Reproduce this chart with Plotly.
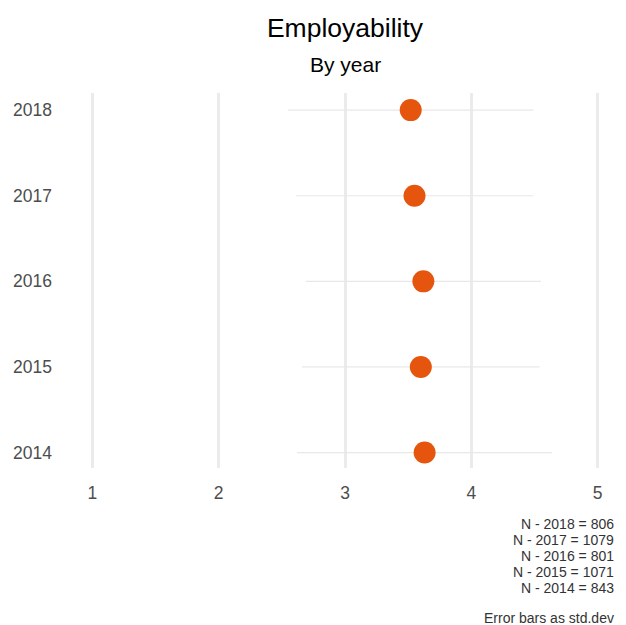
import plotly.graph_objects as go

# Employability score by year (mean and std.dev)
years = ["2018", "2017", "2016", "2015", "2014"]
means = [3.52, 3.55, 3.62, 3.60, 3.63]
std_devs = [0.97, 0.94, 0.93, 0.94, 1.01]
counts = [806, 1079, 801, 1071, 843]

fig = go.Figure()

fig.add_trace(
    go.Scatter(
        x=means,
        y=years,
        mode="markers",
        marker=dict(color="#E6550D", size=22, line=dict(width=0)),
        error_x=dict(
            type="data",
            array=std_devs,
            symmetric=True,
            color="#E8E8E8",
            thickness=1.2,
            width=0,
        ),
        showlegend=False,
    )
)

fig.update_xaxes(
    range=[0.8, 5.2],
    tickvals=[1, 2, 3, 4, 5],
    showgrid=True,
    gridcolor="#EBEBEB",
    gridwidth=2.5,
    zeroline=False,
    showline=False,
    ticks="",
    ticklabelstandoff=12,
    tickfont=dict(size=17.5, color="#4D4D4D"),
)
fig.update_yaxes(
    type="category",
    categoryorder="array",
    categoryarray=years[::-1],
    range=[-0.18, 4.2],
    showgrid=False,
    zeroline=False,
    showline=False,
    ticks="",
    ticklabelstandoff=14,
    tickfont=dict(size=17.5, color="#4D4D4D"),
)

caption_x = (608 - 59) / 556
annotations = [
    dict(
        text="By year",
        xref="paper", yref="paper",
        x=0.5, y=1 + 29 / 375,
        xanchor="center", yanchor="middle",
        showarrow=False,
        font=dict(size=21, color="black"),
    ),
    dict(
        text="Error bars as std.dev",
        xref="paper", yref="paper",
        x=caption_x, y=-150 / 375,
        xanchor="right", yanchor="middle",
        showarrow=False,
        font=dict(size=14, color="#333333"),
    ),
]
# caption lines with N per year
for i, (y, n) in enumerate(zip(years, counts)):
    annotations.append(
        dict(
            text=f"N - {y} = {n}",
            xref="paper", yref="paper",
            x=caption_x, y=-(56 + 16 * i) / 375,
            xanchor="right", yanchor="middle",
            showarrow=False,
            font=dict(size=14, color="#333333"),
        )
    )

fig.update_layout(
    width=618,
    height=617,
    margin=dict(l=59, r=3, t=85, b=157),
    plot_bgcolor="white",
    paper_bgcolor="white",
    font=dict(family="Liberation Sans, Arial, sans-serif"),
    title=dict(
        text="Employability",
        x=0.5,
        xref="paper",
        xanchor="center",
        y=1 - 20 / 617,
        yanchor="middle",
        font=dict(size=26.5, color="black"),
    ),
    annotations=annotations,
)

fig.write_html("out.html")
